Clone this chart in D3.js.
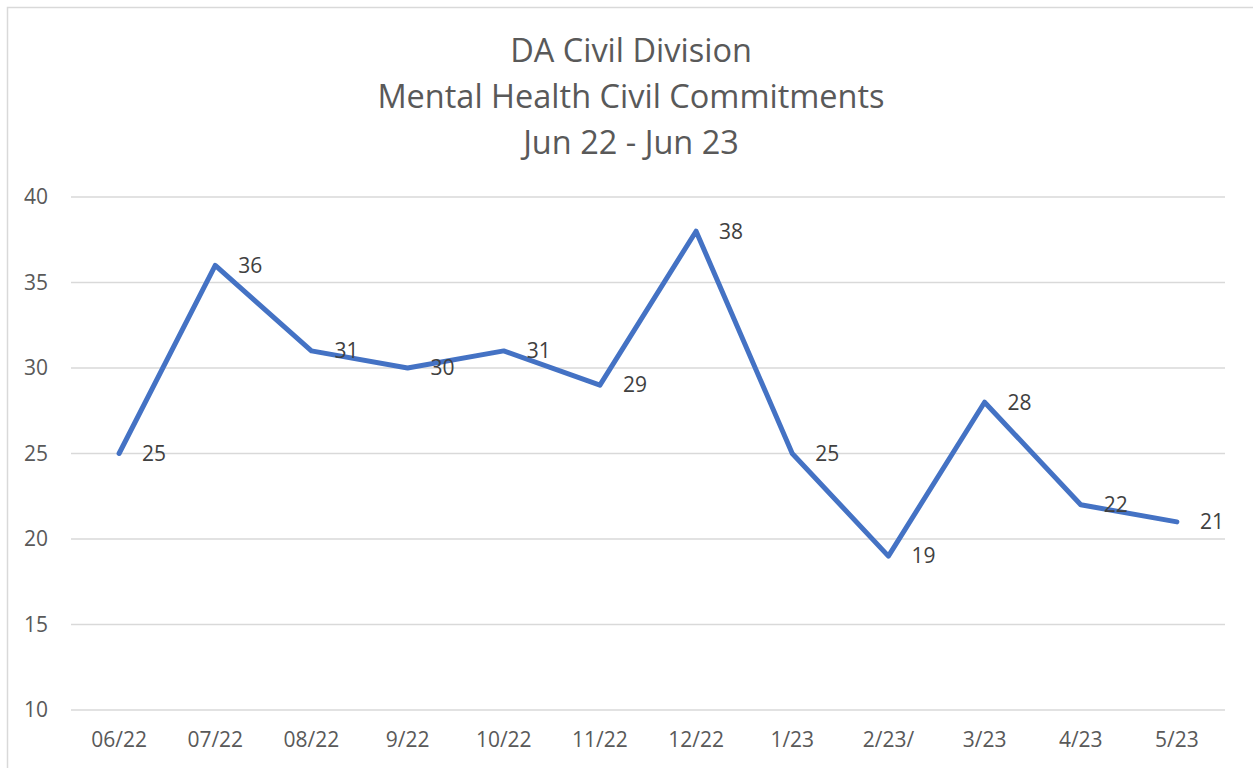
<!DOCTYPE html>
<html>
<head>
<meta charset="utf-8">
<script src="https://cdn.jsdelivr.net/npm/d3@7"></script>
<style>
  body { margin: 0; background: #fff; }
  svg { display: block; font-family: "Open Sans", sans-serif; }
</style>
</head>
<body>
<div id="chart"></div>
<script>
// Monthly civil commitments, Jun 22 - May 23
const months = ["06/22", "07/22", "08/22", "9/22", "10/22", "11/22", "12/22", "1/23", "2/23/", "3/23", "4/23", "5/23"];
const commitments = [25, 36, 31, 30, 31, 29, 38, 25, 19, 28, 22, 21];
const yTicks = [10, 15, 20, 25, 30, 35, 40];
const titleLines = ["DA Civil Division", "Mental Health Civil Commitments", "Jun 22 - Jun 23"];

const width = 1253, height = 768;
const margin = { top: 197, right: 28, bottom: 58, left: 71 };
const FONT = "'Open Sans', sans-serif";

const svg = d3.select("#chart").append("svg")
  .attr("width", width)
  .attr("height", height);

// chart frame (only the top/left edges are visible in the window)
svg.append("rect")
  .attr("x", 7.5).attr("y", 7.5)
  .attr("width", width + 20).attr("height", height + 20)
  .attr("fill", "none")
  .attr("stroke", "#d9d9d9")
  .attr("stroke-width", 1.5);

const x = d3.scaleBand()
  .domain(months)
  .range([margin.left, width - margin.right]);

const y = d3.scaleLinear()
  .domain([10, 40])
  .range([height - margin.bottom, margin.top]);

// title
svg.append("g")
  .selectAll("text")
  .data(titleLines)
  .join("text")
  .attr("x", 631)
  .attr("y", (d, i) => 62 + i * 46)
  .attr("text-anchor", "middle")
  .attr("fill", "#595959")
  .attr("font-size", 32.5)
  .text((d) => d);

// gridlines
svg.append("g")
  .selectAll("line")
  .data(yTicks)
  .join("line")
  .attr("x1", margin.left)
  .attr("x2", width - margin.right)
  .attr("y1", (d) => y(d))
  .attr("y2", (d) => y(d))
  .attr("stroke", "#d9d9d9")
  .attr("stroke-width", 1.3);

// y axis labels
const yAxis = svg.append("g")
  .attr("transform", `translate(${margin.left},0)`)
  .call(d3.axisLeft(y).tickValues(yTicks).tickSize(0).tickPadding(23));
yAxis.select(".domain").remove();
yAxis.selectAll("text")
  .attr("font-family", FONT)
  .attr("font-size", 21)
  .attr("fill", "#595959");

// x axis labels
const xAxis = svg.append("g")
  .attr("transform", `translate(0,${height - margin.bottom})`)
  .call(d3.axisBottom(x).tickSize(0).tickPadding(22));
xAxis.select(".domain").remove();
xAxis.selectAll("text")
  .attr("font-family", FONT)
  .attr("font-size", 21)
  .attr("fill", "#595959");

const cx = (d, i) => x(months[i]) + x.bandwidth() / 2;

const line = d3.line()
  .x((d, i) => cx(d, i))
  .y((d) => y(d));

svg.append("path")
  .datum(commitments)
  .attr("d", line)
  .attr("fill", "none")
  .attr("stroke", "#4472c4")
  .attr("stroke-width", 5)
  .attr("stroke-linejoin", "round")
  .attr("stroke-linecap", "round");

// data labels to the right of each point
svg.append("g")
  .selectAll("text")
  .data(commitments)
  .join("text")
  .attr("x", (d, i) => cx(d, i) + 23)
  .attr("y", (d) => y(d))
  .attr("dy", "0.35em")
  .attr("fill", "#404040")
  .attr("font-size", 21)
  .text((d) => d);
</script>
</body>
</html>
